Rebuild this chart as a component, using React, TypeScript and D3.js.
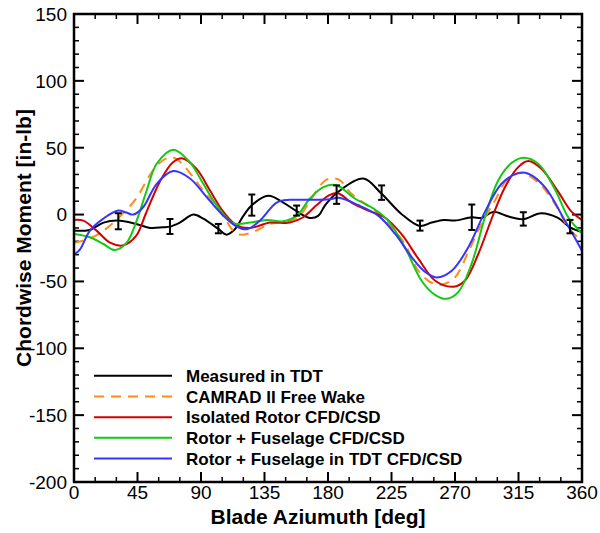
import React from "react";
import * as d3 from "d3";

type P = [number, number];

const xTicksMajor = [0, 45, 90, 135, 180, 225, 270, 315, 360];
const yTicksMajor = [150, 100, 50, 0, -50, -100, -150, -200];

const measured: P[] = [
  [0, -12], [11, -11.5], [21, -6], [31, -4.5], [44, -7], [54, -10], [63, -9.5], [68, -9], [75, -6],
  [84.6, 0], [91.6, -3], [102, -10.5], [108, -15], [114, -11], [120, -1], [126, 7], [137.7, 14],
  [148.3, 9], [157.8, 2.5], [167, -2.5], [173, -1], [178, 7], [186, 16], [205, 27], [218, 15.5],
  [232, 0.5], [245, -8.5], [253.5, -6], [262, -4], [270, -4.5], [282, -2], [289, -2.5], [297, 2],
  [308, -1.5], [318, -3.5], [331, 1], [343, -2.5], [351.5, -9.5], [360, -13],
];

// error bars: azimuth, mean, half-range
const errAz = [31.4, 68, 102.3, 126, 157.8, 186.1, 218, 245.2, 281.9, 318.4, 351.5];
const errMean = [-5, -8.9, -10.5, 7.1, 3, 14.9, 16.4, -8.25, -2, -3.25, -9];
const errHalf = [6, 5.6, 3.5, 7.9, 3.75, 6.9, 5.4, 3.75, 9.5, 5, 5];

const camrad: P[] = [
  [0, -21], [11, -18], [21, -12], [31, -3], [44, 12], [54, 30], [61, 39], [67, 42.5], [72, 42],
  [77.5, 37], [91.6, 18], [103.4, 3], [112.8, -12], [117.6, -15], [127, -13], [138.8, -7],
  [150.6, -5], [158, -3], [166, 8], [172, 18], [178, 25.5], [183, 27], [188, 26], [196.7, 15.5],
  [213, 3], [225, -9.5], [234.5, -22], [244, -42], [253.4, -51], [260.4, -52.5], [270, -47],
  [279.4, -28], [288.8, -7], [298.3, 10.5], [307.7, 27], [317, 31], [329, 24], [340.8, 8],
  [350.2, -9.5], [360, -20],
];

const isolated: P[] = [
  [0, -4], [6.6, -4.5], [16, -12], [25.5, -21], [35, -23], [44, -16], [51, 1], [61, 25], [70, 39],
  [77, 42], [87, 34], [96.4, 18], [105.9, 2], [115.3, -8], [124.8, -10], [139, -6], [153, -6],
  [162.4, -2], [171.8, 7], [181, 14.5], [187, 16], [196.7, 9], [208.5, 3], [220, -2], [232, -14.5],
  [244, -33], [256, -49.5], [268.8, -54], [277, -49.5], [286.5, -29.5], [296, -3], [305.4, 20.5],
  [314.8, 35.5], [322, 40], [331.4, 34], [343.2, 17], [352.7, 2], [360, -4],
];

const fuselage: P[] = [
  [0, -14.5], [11.3, -17], [20.8, -22], [29, -26.5], [37.3, -21], [44.4, -4.5], [51.5, 18],
  [58.6, 38], [70.4, 48.5], [82.2, 39], [91.6, 23], [101, 7], [112.8, -6.5], [124.8, -6],
  [136.5, -4], [148.3, -5], [157.8, -1], [167.2, 12], [176.7, 20.5], [186, 22], [199, 12],
  [213, 4], [222.6, -4.5], [234.5, -24.5], [246.3, -49.5], [255.8, -60], [264, -63], [272.3, -58],
  [281.7, -37], [291.2, -2], [300.6, 25.5], [310, 38.5], [318.4, 42.5], [329, 38], [340.8, 19],
  [350.2, -2], [360, -14],
];

const tdt: P[] = [
  [0, -30], [4.3, -26], [11.3, -12], [20.8, -3], [31.4, 3], [37, 1.5], [42, 0], [49, 5.5],
  [58.6, 23], [70.4, 32.5], [82.2, 27], [94, 13], [105.9, -1], [115.3, -9], [122.4, -11],
  [131.8, -4.5], [143.6, 9], [153, 11], [167.2, 11], [181.4, 11.5], [187.4, 12.5], [201.6, 7],
  [215.8, -1], [227.6, -14.5], [239.4, -32], [248.9, -43], [257, -47], [267.7, -42], [279.4, -24.5],
  [291.2, 2], [303, 23], [314.8, 31], [322, 30.5], [333.7, 20.5], [347.9, -4.5], [360, -27],
];

const seriesNames = [
  "Measured in TDT",
  "CAMRAD II Free Wake",
  "Isolated Rotor CFD/CSD",
  "Rotor + Fuselage CFD/CSD",
  "Rotor + Fuselage in TDT CFD/CSD",
];
const seriesColors = ["#000000", "#ff8c1a", "#d40000", "#14c814", "#3535ff"];
const seriesDash = [null, "10,7", null, null, null];
const seriesData = [measured, camrad, isolated, fuselage, tdt];

export default function App() {
  const W = 600, H = 533;
  const L = 74, R = 582, T = 14, B = 482;
  const x = d3.scaleLinear().domain([0, 360]).range([L, R]);
  const y = d3.scaleLinear().domain([-200, 150]).range([B, T]);
  const line = d3
    .line<P>()
    .x((d) => x(d[0]))
    .y((d) => y(d[1]))
    .curve(d3.curveCatmullRom.alpha(0.5));

  const xMinor = d3.range(0, 361, 15).filter((v) => v % 45 !== 0);
  const yMinor = d3.range(-200, 151, 10).filter((v) => v % 50 !== 0);
  const font = "'Liberation Sans', Arial, Helvetica, sans-serif";
  const MAJ = 10, MIN = 5;

  const legendX1 = 94, legendX2 = 172, legendTextX = 186;
  const legendY = [375.7, 396.5, 417.2, 437.8, 458.5];

  return (
    <svg
      width={W}
      height={H}
      style={{ position: "absolute", left: 0, top: 0, background: "#fff" }}
      fontFamily={font}
    >
      <defs>
        <clipPath id="plot">
          <rect x={L} y={T} width={R - L} height={B - T} />
        </clipPath>
      </defs>
      <rect x={0} y={0} width={W} height={H} fill="#fff" />

      {/* ticks */}
      <g stroke="#000">
        {xTicksMajor.map((v) => (
          <g key={"xm" + v} strokeWidth={2}>
            <line x1={x(v)} x2={x(v)} y1={B} y2={B - MAJ} />
            <line x1={x(v)} x2={x(v)} y1={T} y2={T + MAJ} />
          </g>
        ))}
        {xMinor.map((v) => (
          <g key={"xn" + v} strokeWidth={1.5}>
            <line x1={x(v)} x2={x(v)} y1={B} y2={B - MIN} />
            <line x1={x(v)} x2={x(v)} y1={T} y2={T + MIN} />
          </g>
        ))}
        {yTicksMajor.map((v) => (
          <g key={"ym" + v} strokeWidth={2}>
            <line x1={L} x2={L + MAJ} y1={y(v)} y2={y(v)} />
            <line x1={R} x2={R - MAJ} y1={y(v)} y2={y(v)} />
          </g>
        ))}
        {yMinor.map((v) => (
          <g key={"yn" + v} strokeWidth={1.5}>
            <line x1={L} x2={L + MIN} y1={y(v)} y2={y(v)} />
            <line x1={R} x2={R - MIN} y1={y(v)} y2={y(v)} />
          </g>
        ))}
      </g>

      {/* curves */}
      <g clipPath="url(#plot)" fill="none">
        {seriesData.map((d, i) => (
          <path
            key={"s" + i}
            d={line(d) || ""}
            stroke={seriesColors[i]}
            strokeWidth={2}
            strokeDasharray={seriesDash[i] || undefined}
          />
        ))}
        {errAz.map((a, i) => {
          const cx = x(a);
          const y1 = y(errMean[i] + errHalf[i]);
          const y2 = y(errMean[i] - errHalf[i]);
          return (
            <g key={"e" + i} stroke="#000" strokeWidth={2}>
              <line x1={cx} x2={cx} y1={y1} y2={y2} />
              <line x1={cx - 3.5} x2={cx + 3.5} y1={y1} y2={y1} />
              <line x1={cx - 3.5} x2={cx + 3.5} y1={y2} y2={y2} />
            </g>
          );
        })}
      </g>

      {/* frame */}
      <rect x={L} y={T} width={R - L} height={B - T} fill="none" stroke="#000" strokeWidth={2.5} />

      {/* tick labels */}
      <g fontSize={19} fill="#000">
        {xTicksMajor.map((v) => (
          <text key={"xl" + v} x={x(v)} y={499} textAnchor="middle">
            {v}
          </text>
        ))}
        {yTicksMajor.map((v) => (
          <text key={"yl" + v} x={67} y={y(v) + 6.8} textAnchor="end">
            {v}
          </text>
        ))}
      </g>

      {/* axis titles */}
      <text x={(L + R) / 2 - 10} y={524} textAnchor="middle" fontSize={21} fontWeight="bold">
        Blade Aziumuth [deg]
      </text>
      <text
        transform={`translate(31,238) rotate(-90)`}
        textAnchor="middle"
        fontSize={21}
        fontWeight="bold"
      >
        Chordwise Moment [in-lb]
      </text>

      {/* legend */}
      <g>
        {seriesNames.map((n, i) => (
          <g key={"lg" + i}>
            <line
              x1={legendX1}
              x2={legendX2}
              y1={legendY[i]}
              y2={legendY[i]}
              stroke={seriesColors[i]}
              strokeWidth={2}
              strokeDasharray={seriesDash[i] || undefined}
            />
            <text x={legendTextX} y={legendY[i] + 6} fontSize={17} fontWeight="bold">
              {n}
            </text>
          </g>
        ))}
      </g>
    </svg>
  );
}
